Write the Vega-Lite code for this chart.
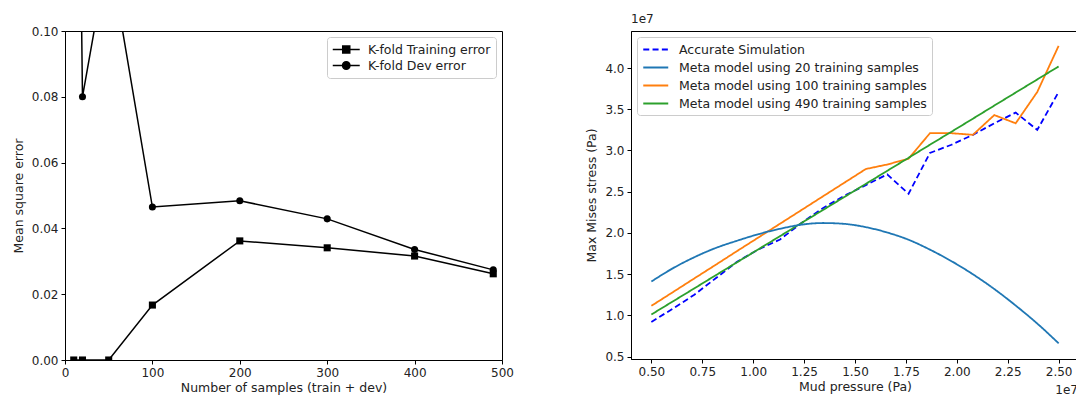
{
  "$schema": "https://vega.github.io/schema/vega-lite/v6.json",
  "background": "white",
  "padding": {"left": 11, "top": 12, "right": 0, "bottom": 0},
  "spacing": 71,
  "resolve": {
    "scale": {"color": "independent", "shape": "independent", "strokeDash": "independent"},
    "legend": {"color": "independent", "shape": "independent", "strokeDash": "independent"}
  },
  "config": {
    "font": "DejaVu Sans",
    "view": {"stroke": "#000000", "strokeWidth": 1},
    "axis": {
      "labelFont": "DejaVu Sans", "labelFontSize": 12, "labelColor": "#222222",
      "titleFont": "DejaVu Sans", "titleFontSize": 12.5, "titleFontWeight": "normal", "titleColor": "#222222",
      "domainColor": "#000000", "tickColor": "#000000", "tickSize": 4, "labelPadding": 3,
      "grid": false, "titlePadding": 3, "labelFlush": false, "labelOverlap": false
    },
    "legend": {
      "labelFont": "DejaVu Sans", "labelFontSize": 12.5, "labelColor": "#222222", "labelLimit": 400,
      "strokeColor": "#cccccc", "fillColor": "rgba(255,255,255,0.85)", "cornerRadius": 3,
      "padding": 5, "rowPadding": 3
    }
  },
  "hconcat": [
    {
      "width": 437,
      "height": 329,
      "data": {"values": [
        {"n": 10, "mse": 0.0, "series": "K-fold Training error"},
        {"n": 20, "mse": 0.0, "series": "K-fold Training error"},
        {"n": 50, "mse": 0.0, "series": "K-fold Training error"},
        {"n": 100, "mse": 0.0167, "series": "K-fold Training error"},
        {"n": 200, "mse": 0.0362, "series": "K-fold Training error"},
        {"n": 300, "mse": 0.0341, "series": "K-fold Training error"},
        {"n": 400, "mse": 0.0316, "series": "K-fold Training error"},
        {"n": 490, "mse": 0.0262, "series": "K-fold Training error"},
        {"n": 10, "mse": 0.3, "series": "K-fold Dev error"},
        {"n": 20, "mse": 0.080, "series": "K-fold Dev error"},
        {"n": 50, "mse": 0.125, "series": "K-fold Dev error"},
        {"n": 100, "mse": 0.0465, "series": "K-fold Dev error"},
        {"n": 200, "mse": 0.0484, "series": "K-fold Dev error"},
        {"n": 300, "mse": 0.0429, "series": "K-fold Dev error"},
        {"n": 400, "mse": 0.0336, "series": "K-fold Dev error"},
        {"n": 490, "mse": 0.0274, "series": "K-fold Dev error"}
      ]},
      "encoding": {
        "x": {"field": "n", "type": "quantitative",
              "scale": {"domain": [0, 500], "nice": false},
              "axis": {"values": [0, 100, 200, 300, 400, 500], "title": "Number of samples (train + dev)"}},
        "y": {"field": "mse", "type": "quantitative",
              "scale": {"domain": [0, 0.1], "nice": false},
              "axis": {"values": [0, 0.02, 0.04, 0.06, 0.08, 0.1], "format": ".2f", "title": "Mean square error", "titlePadding": 6}}
      },
      "layer": [
        {
          "mark": {"type": "line", "color": "#000000", "strokeWidth": 1.5, "clip": true},
          "encoding": {"detail": {"field": "series"}}
        },
        {
          "transform": [{"filter": "datum.series === 'K-fold Training error'"}],
          "mark": {"type": "point", "shape": "square", "filled": true, "color": "#000000", "opacity": 1, "size": 50, "clip": true}
        },
        {
          "transform": [{"filter": "datum.series === 'K-fold Dev error'"}],
          "mark": {"type": "point", "shape": "circle", "filled": true, "color": "#000000", "opacity": 1, "size": 50, "clip": true}
        },
        {
          "mark": {"type": "point", "filled": false, "fill": "#000000", "stroke": "#000000", "strokeWidth": 1.5, "opacity": 1, "size": 0, "clip": true},
          "encoding": {
            "shape": {"field": "series", "type": "nominal",
                      "scale": {"domain": ["K-fold Training error", "K-fold Dev error"],
                                "range": ["M-1,0L3,0M0.48,-0.52L1.52,-0.52L1.52,0.52L0.48,0.52Z", "M-1,0L3,0M1.55,0A0.55,0.55 0 1,1 0.45,0A0.55,0.55 0 1,1 1.55,0Z"]},
                      "legend": {"title": null, "orient": "top-right", "offset": 6, "symbolSize": 182, "symbolStrokeWidth": 1.5, "labelOffset": 21, "rowPadding": 1}}
          }
        }
      ]
    },
    {
      "width": 448,
      "height": 328,
      "data": {"values": [
        {"p": 0.5, "s": 0.92, "model": "Accurate Simulation"},
        {"p": 0.605, "s": 1.08, "model": "Accurate Simulation"},
        {"p": 0.711, "s": 1.25, "model": "Accurate Simulation"},
        {"p": 0.816, "s": 1.45, "model": "Accurate Simulation"},
        {"p": 0.921, "s": 1.65, "model": "Accurate Simulation"},
        {"p": 1.026, "s": 1.80, "model": "Accurate Simulation"},
        {"p": 1.132, "s": 1.92, "model": "Accurate Simulation"},
        {"p": 1.237, "s": 2.12, "model": "Accurate Simulation"},
        {"p": 1.342, "s": 2.30, "model": "Accurate Simulation"},
        {"p": 1.447, "s": 2.45, "model": "Accurate Simulation"},
        {"p": 1.553, "s": 2.58, "model": "Accurate Simulation"},
        {"p": 1.658, "s": 2.71, "model": "Accurate Simulation"},
        {"p": 1.763, "s": 2.475, "model": "Accurate Simulation"},
        {"p": 1.868, "s": 2.97, "model": "Accurate Simulation"},
        {"p": 1.974, "s": 3.07, "model": "Accurate Simulation"},
        {"p": 2.079, "s": 3.19, "model": "Accurate Simulation"},
        {"p": 2.184, "s": 3.33, "model": "Accurate Simulation"},
        {"p": 2.289, "s": 3.46, "model": "Accurate Simulation"},
        {"p": 2.395, "s": 3.25, "model": "Accurate Simulation"},
        {"p": 2.5, "s": 3.71, "model": "Accurate Simulation"},
        {"p": 0.5, "s": 1.41, "model": "Meta model using 20 training samples"},
        {"p": 0.605, "s": 1.57, "model": "Meta model using 20 training samples"},
        {"p": 0.711, "s": 1.705, "model": "Meta model using 20 training samples"},
        {"p": 0.816, "s": 1.817, "model": "Meta model using 20 training samples"},
        {"p": 0.921, "s": 1.905, "model": "Meta model using 20 training samples"},
        {"p": 1.026, "s": 1.985, "model": "Meta model using 20 training samples"},
        {"p": 1.132, "s": 2.05, "model": "Meta model using 20 training samples"},
        {"p": 1.237, "s": 2.10, "model": "Meta model using 20 training samples"},
        {"p": 1.342, "s": 2.12, "model": "Meta model using 20 training samples"},
        {"p": 1.447, "s": 2.11, "model": "Meta model using 20 training samples"},
        {"p": 1.553, "s": 2.07, "model": "Meta model using 20 training samples"},
        {"p": 1.658, "s": 2.005, "model": "Meta model using 20 training samples"},
        {"p": 1.763, "s": 1.917, "model": "Meta model using 20 training samples"},
        {"p": 1.868, "s": 1.797, "model": "Meta model using 20 training samples"},
        {"p": 1.974, "s": 1.657, "model": "Meta model using 20 training samples"},
        {"p": 2.079, "s": 1.498, "model": "Meta model using 20 training samples"},
        {"p": 2.184, "s": 1.319, "model": "Meta model using 20 training samples"},
        {"p": 2.289, "s": 1.119, "model": "Meta model using 20 training samples"},
        {"p": 2.395, "s": 0.90, "model": "Meta model using 20 training samples"},
        {"p": 2.5, "s": 0.66, "model": "Meta model using 20 training samples"},
        {"p": 0.5, "s": 1.115, "model": "Meta model using 100 training samples"},
        {"p": 0.605, "s": 1.28, "model": "Meta model using 100 training samples"},
        {"p": 0.711, "s": 1.448, "model": "Meta model using 100 training samples"},
        {"p": 0.816, "s": 1.613, "model": "Meta model using 100 training samples"},
        {"p": 0.921, "s": 1.78, "model": "Meta model using 100 training samples"},
        {"p": 1.026, "s": 1.945, "model": "Meta model using 100 training samples"},
        {"p": 1.132, "s": 2.112, "model": "Meta model using 100 training samples"},
        {"p": 1.237, "s": 2.277, "model": "Meta model using 100 training samples"},
        {"p": 1.342, "s": 2.443, "model": "Meta model using 100 training samples"},
        {"p": 1.447, "s": 2.608, "model": "Meta model using 100 training samples"},
        {"p": 1.553, "s": 2.775, "model": "Meta model using 100 training samples"},
        {"p": 1.658, "s": 2.83, "model": "Meta model using 100 training samples"},
        {"p": 1.763, "s": 2.90, "model": "Meta model using 100 training samples"},
        {"p": 1.868, "s": 3.21, "model": "Meta model using 100 training samples"},
        {"p": 1.974, "s": 3.21, "model": "Meta model using 100 training samples"},
        {"p": 2.079, "s": 3.19, "model": "Meta model using 100 training samples"},
        {"p": 2.184, "s": 3.43, "model": "Meta model using 100 training samples"},
        {"p": 2.289, "s": 3.33, "model": "Meta model using 100 training samples"},
        {"p": 2.395, "s": 3.71, "model": "Meta model using 100 training samples"},
        {"p": 2.5, "s": 4.27, "model": "Meta model using 100 training samples"},
        {"p": 0.5, "s": 1.01, "model": "Meta model using 490 training samples"},
        {"p": 0.605, "s": 1.168, "model": "Meta model using 490 training samples"},
        {"p": 0.711, "s": 1.327, "model": "Meta model using 490 training samples"},
        {"p": 0.816, "s": 1.486, "model": "Meta model using 490 training samples"},
        {"p": 0.921, "s": 1.644, "model": "Meta model using 490 training samples"},
        {"p": 1.026, "s": 1.802, "model": "Meta model using 490 training samples"},
        {"p": 1.132, "s": 1.961, "model": "Meta model using 490 training samples"},
        {"p": 1.237, "s": 2.12, "model": "Meta model using 490 training samples"},
        {"p": 1.342, "s": 2.277, "model": "Meta model using 490 training samples"},
        {"p": 1.447, "s": 2.435, "model": "Meta model using 490 training samples"},
        {"p": 1.553, "s": 2.595, "model": "Meta model using 490 training samples"},
        {"p": 1.658, "s": 2.753, "model": "Meta model using 490 training samples"},
        {"p": 1.763, "s": 2.911, "model": "Meta model using 490 training samples"},
        {"p": 1.868, "s": 3.07, "model": "Meta model using 490 training samples"},
        {"p": 1.974, "s": 3.228, "model": "Meta model using 490 training samples"},
        {"p": 2.079, "s": 3.386, "model": "Meta model using 490 training samples"},
        {"p": 2.184, "s": 3.545, "model": "Meta model using 490 training samples"},
        {"p": 2.289, "s": 3.703, "model": "Meta model using 490 training samples"},
        {"p": 2.395, "s": 3.862, "model": "Meta model using 490 training samples"},
        {"p": 2.5, "s": 4.02, "model": "Meta model using 490 training samples"}
      ]},
      "layer": [
        {
          "transform": [{"filter": "datum.model !== 'Meta model using 20 training samples'"}],
          "mark": {"type": "line", "strokeWidth": 1.8},
          "encoding": {
            "x": {"field": "p", "type": "quantitative",
                  "scale": {"domain": [0.4, 2.6], "nice": false, "zero": false},
                  "axis": {"values": [0.5, 0.75, 1.0, 1.25, 1.5, 1.75, 2.0, 2.25, 2.5], "format": ".2f", "title": "Mud pressure (Pa)"}},
            "y": {"field": "s", "type": "quantitative",
                  "scale": {"domain": [0.47, 4.45], "nice": false, "zero": false},
                  "axis": {"values": [0.5, 1.0, 1.5, 2.0, 2.5, 3.0, 3.5, 4.0], "format": ".1f", "title": "Max Mises stress (Pa)", "titlePadding": 6}},
            "color": {"field": "model", "type": "nominal",
                      "scale": {"domain": ["Accurate Simulation", "Meta model using 20 training samples", "Meta model using 100 training samples", "Meta model using 490 training samples"],
                                "range": ["#0000ff", "#1f77b4", "#ff7f0e", "#2ca02c"]},
                      "legend": {"title": null, "orient": "top-left", "offset": 6, "symbolType": "M-1,0L3,0", "symbolSize": 156, "symbolStrokeWidth": 2, "labelOffset": 22, "rowPadding": 4}},
            "strokeDash": {"field": "model", "type": "nominal",
                           "scale": {"domain": ["Accurate Simulation", "Meta model using 20 training samples", "Meta model using 100 training samples", "Meta model using 490 training samples"],
                                     "range": [[6, 3.3], [1, 0], [1, 0], [1, 0]]},
                           "legend": {"title": null, "orient": "top-left", "offset": 6, "symbolType": "M-1,0L3,0", "symbolSize": 156, "symbolStrokeWidth": 2, "labelOffset": 22, "rowPadding": 4}},
            "order": {"field": "p", "type": "quantitative"}
          }
        },
        {
          "transform": [{"filter": "datum.model === 'Meta model using 20 training samples'"}],
          "mark": {"type": "line", "strokeWidth": 1.8, "interpolate": "monotone"},
          "encoding": {
            "x": {"field": "p", "type": "quantitative"},
            "y": {"field": "s", "type": "quantitative"},
            "color": {"field": "model", "type": "nominal"},
            "strokeDash": {"field": "model", "type": "nominal"}
          }
        },
        {
          "data": {"values": [{}]},
          "mark": {"type": "text", "text": "1e7", "align": "left", "baseline": "bottom", "dy": -5, "font": "DejaVu Sans", "fontSize": 12, "color": "#222222"},
          "encoding": {"x": {"datum": 0.4}, "y": {"datum": 4.45}}
        },
        {
          "data": {"values": [{}]},
          "mark": {"type": "text", "text": "1e7", "align": "right", "baseline": "middle", "dy": 31, "dx": -1, "font": "DejaVu Sans", "fontSize": 12, "color": "#222222"},
          "encoding": {"x": {"datum": 2.6}, "y": {"datum": 0.47}}
        }
      ]
    }
  ]
}
